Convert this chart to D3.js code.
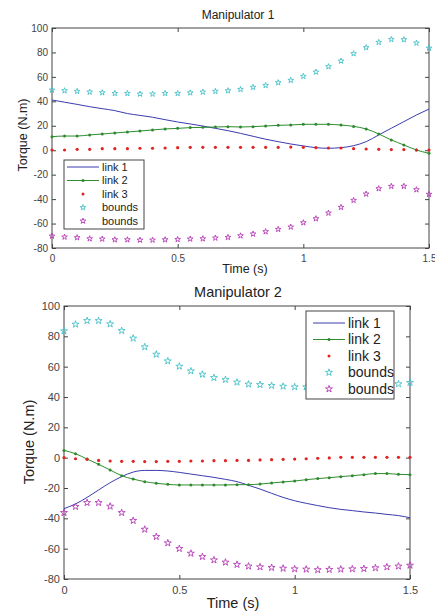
<!DOCTYPE html>
<html>
<head>
<meta charset="utf-8">
<script src="https://cdn.jsdelivr.net/npm/d3@7"></script>
<style>
  body { margin: 0; background: #fff; }
  svg { display: block; font-family: "Liberation Sans", Arial, sans-serif; }
  .tick text { fill: #444; }
</style>
</head>
<body>
<script>
// sample times (s)
const TIME = [0, 0.05, 0.1, 0.15, 0.2, 0.25, 0.3, 0.35, 0.4, 0.45, 0.5, 0.55, 0.6, 0.65, 0.7, 0.75,
              0.8, 0.85, 0.9, 0.95, 1.0, 1.05, 1.1, 1.15, 1.2, 1.25, 1.3, 1.35, 1.4, 1.45, 1.5];

const X_TICKS = [0, 0.5, 1, 1.5];
const Y_TICKS = [-80, -60, -40, -20, 0, 20, 40, 60, 80, 100];
const LEGEND_NAMES = ["link 1", "link 2", "link 3", "bounds", "bounds"];

// Manipulator 1
const m1Link1 = [41.1, 39.3, 37.5, 35.6, 34, 32.4, 30, 28.5, 27, 25, 23.1, 21.5, 19.8, 17.9, 16, 13.8,
                 11.4, 9, 7, 5.1, 3.5, 2.1, 1.6, 2.1, 3.7, 7, 12.5, 18, 23.4, 28.8, 33.7];
const m1Link2 = [11.1, 11.6, 11.6, 12.5, 13.3, 14.1, 14.9, 15.7, 16.6, 17.4, 17.9, 18.5, 18.7, 19, 19.3, 19,
                 19.3, 19.8, 20.4, 20.6, 21.2, 21.2, 21.2, 20.6, 19.5, 17.4, 13.3, 8.4, 4.3, 0.2, -2.5];
const m1Link3 = [0.2, 0.2, 0.7, 0.7, 1.3, 1.3, 1.3, 1.6, 1.6, 1.8, 2.1, 2.4, 2.4, 2.4, 2.4, 2.4,
                 2.4, 2.4, 2.4, 2.6, 2.4, 2.1, 1.8, 1.8, 1.3, 1, 0.7, 0.5, 0.5, 0.2, 0.2];
const m1Upper = [49.3, 48.7, 48.2, 47.6, 47.1, 46.5, 46.5, 46, 46, 46.5, 46.5, 47, 47.6, 48.2, 48.7, 49.8,
                 51.5, 53, 55.3, 57.2, 60.5, 64, 68.4, 73, 79, 84, 88.3, 90.7, 90.5, 87.7, 83.6];
const m1Lower = [-70.2, -71, -71.5, -72.4, -72.6, -73.2, -73.2, -73.5, -73.5, -73.2, -73, -72.6, -72.4, -71.8, -71.3, -70,
                 -68.5, -66.6, -64.7, -62.8, -59.3, -56, -51.4, -46.7, -41, -35.8, -31.4, -29.5, -29.5, -32.3, -36];

// Manipulator 2
const m2Link1 = [-33.6, -30.5, -26.2, -21.3, -16.5, -12.5, -9.5, -8.4, -8.4, -8.8, -9.7, -10.8, -11.9, -13, -14.3, -15.8,
                 -18.2, -20.7, -23.5, -26.2, -28.4, -30.1, -31.6, -33, -34.1, -34.9, -35.8, -36.5, -37.4, -38.2, -39.6];
const m2Link2 = [4.8, 2.6, -0.9, -4.4, -8.1, -11.9, -14.1, -15.8, -16.9, -17.6, -18, -18, -18, -18, -18, -17.8,
                 -17.8, -17.4, -16.7, -16, -15.4, -14.5, -13.8, -13.2, -12.5, -11.9, -11.2, -10.5, -10.5, -11, -11.2];
const m2Link3 = [0, -0.7, -1.1, -1.8, -2.2, -2.4, -2.4, -2.6, -2.6, -2.4, -2.4, -2.2, -2.2, -2, -2, -1.8,
                 -1.8, -1.5, -1.3, -1.1, -0.9, -0.7, -0.4, -0.2, 0.2, 0.2, 0.2, 0.2, 0.2, 0.2, 0.2];
const m2Upper = [83.5, 87.9, 90.3, 90.3, 88.1, 83.7, 78.7, 73, 68.1, 63.7, 60.2, 57.1, 54.9, 52.7, 51.4, 49.7,
                 48.4, 48.1, 47.5, 47, 46.6, 46.6, 46, 46, 46.5, 46.5, 47.1, 47.6, 48.2, 48.6, 49.5];
const m2Lower = [-36.3, -32.3, -29.7, -29.7, -32.1, -36.3, -41.5, -47.3, -52.1, -56.3, -60, -63.1, -65.3, -67.5, -69, -70.5,
                 -71.6, -72.1, -72.5, -73, -73.4, -73.6, -74, -73.8, -73.6, -73.4, -73.2, -72.7, -72.1, -71.6, -71];

const COLORS = { link1: "#3b3bb0", link2: "#2e8b2e", link3: "#e02424", upper: "#45c1c8", lower: "#b63cb6" };

const svg = d3.select("body").append("svg").attr("width", 435).attr("height", 615);

/**
 * Draws one MATLAB-style panel
 */
function drawPanel(cfg) {
    const x = d3.scaleLinear().domain([0, 1.5]).range([cfg.left, cfg.right]);
    const y = d3.scaleLinear().domain([-80, 100]).range([cfg.bottom, cfg.top]);
    const g = svg.append("g");
    const tick = 4;
    const plain = d => String(d);  // keep ascii hyphen for negatives

    // box
    g.append("rect")
        .attr("x", cfg.left).attr("y", cfg.top)
        .attr("width", cfg.right - cfg.left).attr("height", cfg.bottom - cfg.top)
        .attr("fill", "#fff").attr("stroke", "#444").attr("stroke-width", 1);

    // axes with inner ticks
    const xAxis = g.append("g").attr("transform", `translate(0,${cfg.bottom})`)
        .call(d3.axisBottom(x).tickValues(X_TICKS).tickSize(-tick).tickPadding(7).tickFormat(plain));
    const yAxis = g.append("g").attr("transform", `translate(${cfg.left},0)`)
        .call(d3.axisLeft(y).tickValues(Y_TICKS).tickSize(-tick).tickPadding(4).tickFormat(plain));
    g.append("g").attr("transform", `translate(0,${cfg.top})`)
        .call(d3.axisTop(x).tickValues(X_TICKS).tickSize(-tick).tickFormat(""));
    g.append("g").attr("transform", `translate(${cfg.right},0)`)
        .call(d3.axisRight(y).tickValues(Y_TICKS).tickSize(-tick).tickFormat(""));
    g.selectAll(".domain").remove();
    g.selectAll(".tick line").attr("stroke", "#444");
    xAxis.selectAll("text").attr("font-size", cfg.tickFont).attr("font-family", "Liberation Sans");
    yAxis.selectAll("text").attr("font-size", cfg.tickFont).attr("font-family", "Liberation Sans");

    const line = d3.line().x((d, i) => x(TIME[i])).y(d => y(d)).curve(d3.curveMonotoneX);

    // link 1 line
    g.append("path").datum(cfg.link1).attr("d", line)
        .attr("fill", "none").attr("stroke", COLORS.link1).attr("stroke-width", 1);

    // link 2 line with dots
    g.append("path").datum(cfg.link2).attr("d", line)
        .attr("fill", "none").attr("stroke", COLORS.link2).attr("stroke-width", 1);
    g.selectAll(".dot2").data(cfg.link2).enter().append("circle")
        .attr("cx", (d, i) => x(TIME[i])).attr("cy", d => y(d)).attr("r", 1.5)
        .attr("fill", COLORS.link2);

    // link 3 dots
    g.selectAll(".dot3").data(cfg.link3).enter().append("circle")
        .attr("cx", (d, i) => x(TIME[i])).attr("cy", d => y(d)).attr("r", 1.6)
        .attr("fill", COLORS.link3);

    // bounds, pentagram markers
    const star = d3.symbol().type(d3.symbolStar).size(cfg.starSize);
    [[cfg.upper, COLORS.upper], [cfg.lower, COLORS.lower]].forEach(([vals, col]) => {
        g.selectAll(null).data(vals).enter().append("path")
            .attr("d", star)
            .attr("transform", (d, i) => `translate(${x(TIME[i])},${y(d)})`)
            .attr("fill", "none").attr("stroke", col).attr("stroke-width", 0.9);
    });

    // title and axis labels
    g.append("text").attr("x", cfg.titleX).attr("y", cfg.titleY)
        .attr("text-anchor", "middle").attr("font-size", cfg.titleFont).attr("fill", "#222")
        .text(cfg.title);
    g.append("text").attr("x", cfg.xLabelX).attr("y", cfg.xLabelY)
        .attr("text-anchor", "middle").attr("font-size", cfg.labelFont).attr("fill", "#222")
        .text("Time (s)");
    g.append("text")
        .attr("transform", `translate(${cfg.yLabelX},${cfg.yLabelY}) rotate(-90)`)
        .attr("text-anchor", "middle").attr("font-size", cfg.labelFont).attr("fill", "#222")
        .text("Torque (N.m)");

    // legend
    const L = cfg.legend;
    const leg = g.append("g");
    leg.append("rect").attr("x", L.x).attr("y", L.y).attr("width", L.w).attr("height", L.h)
        .attr("fill", "#fff").attr("stroke", "#444").attr("stroke-width", 1);
    const cols = [COLORS.link1, COLORS.link2, COLORS.link3, COLORS.upper, COLORS.lower];
    LEGEND_NAMES.forEach((name, i) => {
        const ry = L.y + L.first + i * L.step;
        const mid = (L.lineX1 + L.lineX2) / 2;
        if (i < 2) {
            leg.append("line").attr("x1", L.lineX1).attr("x2", L.lineX2).attr("y1", ry).attr("y2", ry)
                .attr("stroke", cols[i]).attr("stroke-width", 1);
        }
        if (i === 1 || i === 2) {
            leg.append("circle").attr("cx", mid).attr("cy", ry).attr("r", 1.5).attr("fill", cols[i]);
        }
        if (i > 2) {
            leg.append("path").attr("d", star).attr("transform", `translate(${mid},${ry})`)
                .attr("fill", "none").attr("stroke", cols[i]).attr("stroke-width", 0.9);
        }
        leg.append("text").attr("x", L.textX).attr("y", ry).attr("dy", "0.35em")
            .attr("font-size", L.font).attr("fill", "#222").text(name);
    });
}

drawPanel({
    title: "Manipulator 1",
    left: 52, right: 429, top: 28, bottom: 248,
    link1: m1Link1, link2: m1Link2, link3: m1Link3, upper: m1Upper, lower: m1Lower,
    tickFont: 10, titleFont: 12, labelFont: 12.5, starSize: 10,
    titleX: 238, titleY: 19, xLabelX: 245, xLabelY: 273, yLabelX: 27, yLabelY: 135,
    legend: { x: 64, y: 160, w: 80, h: 69, first: 7, step: 13.5, lineX1: 67, lineX2: 99, textX: 102, font: 11 }
});

drawPanel({
    title: "Manipulator 2",
    left: 64, right: 410, top: 306, bottom: 579,
    link1: m2Link1, link2: m2Link2, link3: m2Link3, upper: m2Upper, lower: m2Lower,
    tickFont: 11, titleFont: 14.5, labelFont: 14.5, starSize: 15,
    titleX: 238, titleY: 297, xLabelX: 233, xLabelY: 608, yLabelX: 34, yLabelY: 442,
    legend: { x: 306, y: 311, w: 88, h: 88, first: 12, step: 16.5, lineX1: 313, lineX2: 345, textX: 348, font: 14 }
});
</script>
</body>
</html>
